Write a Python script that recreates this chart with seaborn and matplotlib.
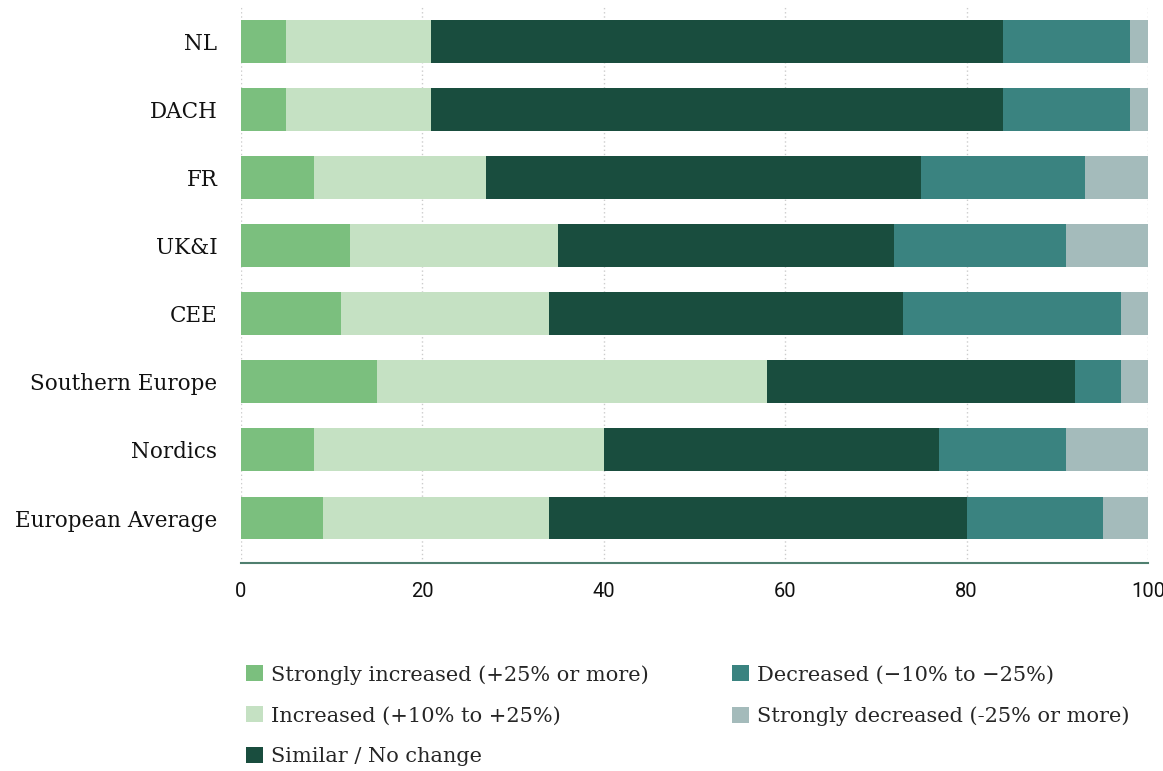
import numpy as np
import pandas as pd
import seaborn as sns
import matplotlib.pyplot as plt
from matplotlib.patches import Patch

regions = ["NL", "DACH", "FR", "UK&I", "CEE", "Southern Europe", "Nordics", "European Average"]

strongly_increased = [5, 5, 8, 12, 11, 15, 8, 9]
increased = [16, 16, 19, 23, 23, 43, 32, 25]
similar = [63, 63, 48, 37, 39, 34, 37, 46]
decreased = [14, 14, 18, 19, 24, 5, 14, 15]
strongly_decreased = [2, 2, 7, 9, 3, 3, 9, 5]

series_names = [
    "Strongly increased (+25% or more)",
    "Increased (+10% to +25%)",
    "Similar / No change",
    "Decreased (\u221210% to \u221225%)",
    "Strongly decreased (-25% or more)",
]
series_values = [strongly_increased, increased, similar, decreased, strongly_decreased]
colors = ["#7bbf7e", "#c5e1c3", "#194d3e", "#3a8380", "#a4bbbb"]

sns.set_theme(style="white")
plt.rcParams["font.family"] = ["DejaVu Serif"]

fig = plt.figure(figsize=(11.63, 7.71), dpi=100)
ax = fig.add_axes([0.2072, 0.2698, 0.7799, 0.7237])

df = pd.DataFrame(dict(zip(series_names, series_values)), index=regions)
cum = df.cumsum(axis=1)

# stacked bars: draw cumulative totals from the outermost segment inward
for name, color in reversed(list(zip(series_names, colors))):
    sns.barplot(x=cum[name].values, y=regions, orient="h", color=color,
                width=0.63, ax=ax, saturation=1, linewidth=0, zorder=3)

ax.set_xlim(0, 100)
ax.set_ylim(7.66, -0.53)
ax.set_xticks([0, 20, 40, 60, 80, 100])
ax.set_xlabel("")
ax.set_ylabel("")
for s in ["top", "right", "left"]:
    ax.spines[s].set_visible(False)
ax.spines["bottom"].set_color("#4f7f6f")
ax.spines["bottom"].set_linewidth(1.5)
ax.grid(axis="x", color="#cccccc", linestyle=(0, (1, 2)), linewidth=1, zorder=0)
ax.grid(axis="y", visible=False)
ax.tick_params(axis="both", length=0)
ax.tick_params(axis="y", labelsize=15.5, pad=17, labelcolor="#111111")
ax.tick_params(axis="x", labelsize=14.5, pad=14, labelcolor="#111111")
for lbl in ax.get_xticklabels():
    lbl.set_fontfamily("Roboto")

handles = [Patch(facecolor=c, edgecolor="none", label=n) for n, c in zip(series_names, colors)]
fig.legend(handles=handles, ncol=2, loc="upper left", bbox_to_anchor=(0.2116, 0.1375),
           frameon=False, fontsize=15, handlelength=0.8, handleheight=0.8,
           handletextpad=0.4, columnspacing=4.0, labelspacing=1.03,
           borderaxespad=0, borderpad=0)

fig.savefig("out.png", dpi=100)
